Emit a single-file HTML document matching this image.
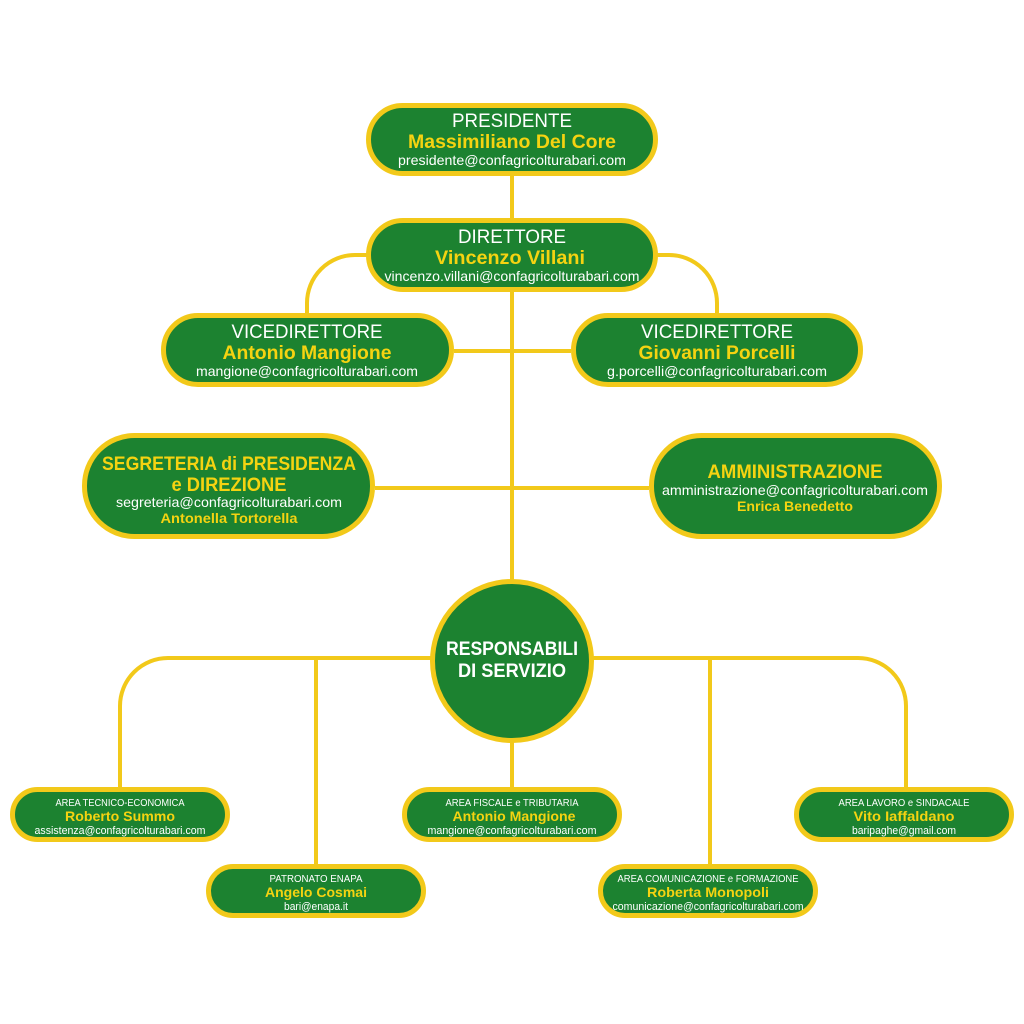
<!DOCTYPE html>
<html><head><meta charset="utf-8"><style>html,body{margin:0;padding:0;background:#fff}svg{display:block}</style></head>
<body>
<svg width="1024" height="1024" viewBox="0 0 1024 1024" xmlns="http://www.w3.org/2000/svg" font-family="'Liberation Sans', sans-serif" text-anchor="middle">
<g stroke="#f2c91a" stroke-width="4" fill="none">
<line x1="512" y1="176" x2="512" y2="580"/>
<line x1="454" y1="351" x2="571" y2="351"/>
<line x1="375" y1="488" x2="649" y2="488"/>
<path d="M368 255 H355 A48 48 0 0 0 307 303 V315"/>
<path d="M656 255 H669 A48 48 0 0 1 717 303 V315"/>
<path d="M120 789 V706 A48 48 0 0 1 168 658 H858 A48 48 0 0 1 906 706 V789"/>
<line x1="316" y1="658" x2="316" y2="866"/>
<line x1="710" y1="658" x2="710" y2="866"/>
<line x1="512" y1="740" x2="512" y2="789"/>
</g>
<g fill="#1c8230" stroke="#f2c91a" stroke-width="5">
<rect x="368.5" y="105.5" width="287" height="68" rx="34"/>
<rect x="368.5" y="220.5" width="287" height="69" rx="34.5"/>
<rect x="163.5" y="315.5" width="288" height="69" rx="34.5"/>
<rect x="573.5" y="315.5" width="287" height="69" rx="34.5"/>
<rect x="84.5" y="435.5" width="288" height="101" rx="50"/>
<rect x="651.5" y="435.5" width="288" height="101" rx="50"/>
<circle cx="512" cy="661" r="79.5"/>
<rect x="12.5" y="789.5" width="215" height="50" rx="25"/>
<rect x="404.5" y="789.5" width="215" height="50" rx="25"/>
<rect x="796.5" y="789.5" width="215" height="50" rx="25"/>
<rect x="208.5" y="866.5" width="215" height="49" rx="24.5"/>
<rect x="600.5" y="866.5" width="215" height="49" rx="24.5"/>
</g>
<g lengthAdjust="spacingAndGlyphs">
<!-- presidente -->
<text x="512" y="127" font-size="19" fill="#fff" textLength="120" lengthAdjust="spacingAndGlyphs">PRESIDENTE</text>
<text x="512" y="148" font-size="19" font-weight="bold" fill="#f5d311" textLength="208" lengthAdjust="spacingAndGlyphs">Massimiliano Del Core</text>
<text x="512" y="165" font-size="14" fill="#fff" textLength="228" lengthAdjust="spacingAndGlyphs">presidente@confagricolturabari.com</text>
<!-- direttore -->
<text x="512" y="243" font-size="19" fill="#fff" textLength="108" lengthAdjust="spacingAndGlyphs">DIRETTORE</text>
<text x="510" y="264" font-size="19" font-weight="bold" fill="#f5d311" textLength="150" lengthAdjust="spacingAndGlyphs">Vincenzo Villani</text>
<text x="512" y="281" font-size="14" fill="#fff" textLength="255" lengthAdjust="spacingAndGlyphs">vincenzo.villani@confagricolturabari.com</text>
<!-- vice L -->
<text x="307" y="338" font-size="19" fill="#fff" textLength="151" lengthAdjust="spacingAndGlyphs">VICEDIRETTORE</text>
<text x="307" y="359" font-size="19" font-weight="bold" fill="#f5d311" textLength="169" lengthAdjust="spacingAndGlyphs">Antonio Mangione</text>
<text x="307" y="376" font-size="14" fill="#fff" textLength="222" lengthAdjust="spacingAndGlyphs">mangione@confagricolturabari.com</text>
<!-- vice R -->
<text x="717" y="338" font-size="19" fill="#fff" textLength="152" lengthAdjust="spacingAndGlyphs">VICEDIRETTORE</text>
<text x="717" y="359" font-size="19" font-weight="bold" fill="#f5d311" textLength="157" lengthAdjust="spacingAndGlyphs">Giovanni Porcelli</text>
<text x="717" y="376" font-size="14" fill="#fff" textLength="220" lengthAdjust="spacingAndGlyphs">g.porcelli@confagricolturabari.com</text>
<!-- segreteria -->
<text x="229" y="470" font-size="19" font-weight="bold" fill="#f5d311" textLength="254" lengthAdjust="spacingAndGlyphs">SEGRETERIA di PRESIDENZA</text>
<text x="229" y="491" font-size="19" font-weight="bold" fill="#f5d311" textLength="115" lengthAdjust="spacingAndGlyphs">e DIREZIONE</text>
<text x="229" y="507" font-size="14" fill="#fff" textLength="226" lengthAdjust="spacingAndGlyphs">segreteria@confagricolturabari.com</text>
<text x="229" y="523" font-size="14" font-weight="bold" fill="#f5d311" textLength="137" lengthAdjust="spacingAndGlyphs">Antonella Tortorella</text>
<!-- amministrazione -->
<text x="795" y="478" font-size="19" font-weight="bold" fill="#f5d311" textLength="175" lengthAdjust="spacingAndGlyphs">AMMINISTRAZIONE</text>
<text x="795" y="495" font-size="14" fill="#fff" textLength="266" lengthAdjust="spacingAndGlyphs">amministrazione@confagricolturabari.com</text>
<text x="795" y="511" font-size="14" font-weight="bold" fill="#f5d311" textLength="116" lengthAdjust="spacingAndGlyphs">Enrica Benedetto</text>
<!-- circle -->
<text x="512" y="655" font-size="19" font-weight="bold" fill="#fff" textLength="132" lengthAdjust="spacingAndGlyphs">RESPONSABILI</text>
<text x="512" y="677" font-size="19" font-weight="bold" fill="#fff" textLength="108" lengthAdjust="spacingAndGlyphs">DI SERVIZIO</text>
<!-- bottom -->
<text x="120" y="806" font-size="10" fill="#fff" textLength="129" lengthAdjust="spacingAndGlyphs">AREA TECNICO-ECONOMICA</text>
<text x="120" y="821" font-size="14" font-weight="bold" fill="#f5d311" textLength="110" lengthAdjust="spacingAndGlyphs">Roberto Summo</text>
<text x="120" y="834" font-size="11" fill="#fff" textLength="171" lengthAdjust="spacingAndGlyphs">assistenza@confagricolturabari.com</text>

<text x="512" y="806" font-size="10" fill="#fff" textLength="133" lengthAdjust="spacingAndGlyphs">AREA FISCALE e TRIBUTARIA</text>
<text x="514" y="821" font-size="14" font-weight="bold" fill="#f5d311" textLength="123" lengthAdjust="spacingAndGlyphs">Antonio Mangione</text>
<text x="512" y="834" font-size="11" fill="#fff" textLength="169" lengthAdjust="spacingAndGlyphs">mangione@confagricolturabari.com</text>

<text x="904" y="806" font-size="10" fill="#fff" textLength="131" lengthAdjust="spacingAndGlyphs">AREA LAVORO e SINDACALE</text>
<text x="904" y="821" font-size="14" font-weight="bold" fill="#f5d311" textLength="101" lengthAdjust="spacingAndGlyphs">Vito Iaffaldano</text>
<text x="904" y="834" font-size="11" fill="#fff" textLength="104" lengthAdjust="spacingAndGlyphs">baripaghe@gmail.com</text>

<text x="316" y="882" font-size="10" fill="#fff" textLength="93" lengthAdjust="spacingAndGlyphs">PATRONATO ENAPA</text>
<text x="316" y="897" font-size="14" font-weight="bold" fill="#f5d311" textLength="102" lengthAdjust="spacingAndGlyphs">Angelo Cosmai</text>
<text x="316" y="910" font-size="11" fill="#fff" textLength="64" lengthAdjust="spacingAndGlyphs">bari@enapa.it</text>

<text x="708" y="882" font-size="10" fill="#fff" textLength="181" lengthAdjust="spacingAndGlyphs">AREA COMUNICAZIONE e FORMAZIONE</text>
<text x="708" y="897" font-size="14" font-weight="bold" fill="#f5d311" textLength="122" lengthAdjust="spacingAndGlyphs">Roberta Monopoli</text>
<text x="708" y="910" font-size="11" fill="#fff" textLength="191" lengthAdjust="spacingAndGlyphs">comunicazione@confagricolturabari.com</text>
</g>
</svg>
</body></html>
